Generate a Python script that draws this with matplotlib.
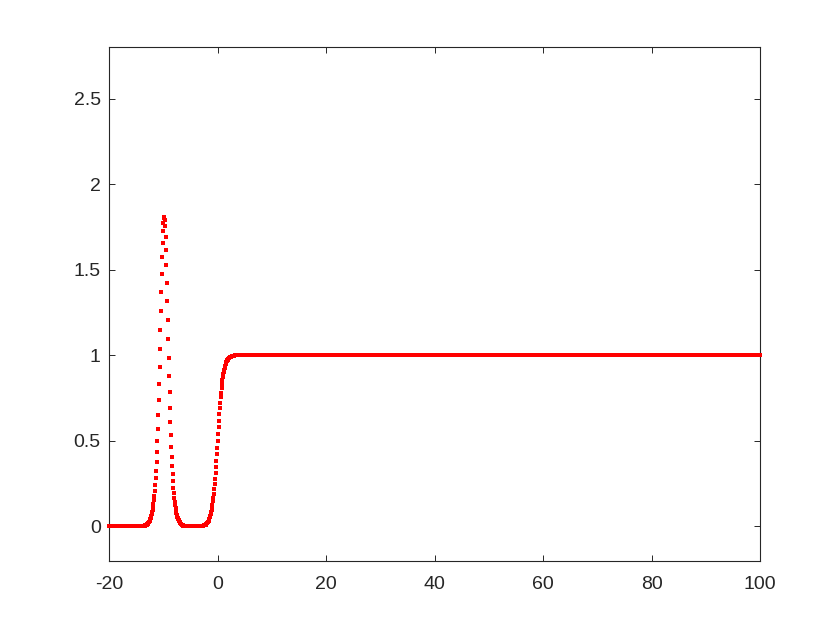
import numpy as np
import matplotlib
matplotlib.use("Agg")
import matplotlib.pyplot as plt

# ---- data -------------------------------------------------------------
# sampling grid of the curve
x_start = -20.0
x_step = 0.08
n_points = 1501

# levels on both sides of the features
base_level = 0.0
plateau_level = 1.0

# soliton-like peak near x = -9.9 (values on the sampling grid)
peak_start_x = -13.36
peak_y = [
    0.007, 0.008, 0.009, 0.011, 0.012, 0.015, 0.017, 0.020, 0.024, 0.028,
    0.032, 0.038, 0.044, 0.052, 0.061, 0.071, 0.083, 0.098, 0.114, 0.133,
    0.155, 0.180, 0.210, 0.244, 0.283, 0.327, 0.378, 0.435, 0.499, 0.571,
    0.650, 0.737, 0.832, 0.933, 1.039, 1.149, 1.260, 1.370, 1.475, 1.572,
    1.656, 1.725, 1.775, 1.804,
    1.809, 1.792, 1.753, 1.693, 1.616, 1.525, 1.424, 1.316, 1.205, 1.094,
    0.985, 0.881, 0.784, 0.693, 0.609, 0.534, 0.466, 0.405, 0.352, 0.304,
    0.263, 0.226, 0.195, 0.167, 0.144, 0.123, 0.105, 0.090, 0.077, 0.066,
    0.056, 0.048, 0.041, 0.035, 0.030, 0.026, 0.022, 0.019, 0.016, 0.014,
    0.011, 0.010, 0.008, 0.007,
]

# kink (step from 0 to 1) near x = 0
kink_start_x = -3.04
kink_y = [
    0.002, 0.003, 0.003, 0.004, 0.004, 0.005, 0.006, 0.007, 0.008, 0.010,
    0.011, 0.013, 0.015, 0.018, 0.021, 0.025, 0.029, 0.034, 0.039, 0.046,
    0.053, 0.062, 0.072, 0.083, 0.096, 0.111, 0.128, 0.147, 0.168, 0.192,
    0.218, 0.246, 0.277, 0.310, 0.345, 0.382, 0.421, 0.460,
    0.500,
    0.540, 0.579, 0.618, 0.655, 0.690, 0.723, 0.754, 0.782, 0.809, 0.832,
    0.853, 0.872, 0.889, 0.904, 0.917, 0.928, 0.938, 0.947, 0.954, 0.961,
    0.966, 0.971, 0.975, 0.979, 0.982, 0.985, 0.987, 0.989, 0.990, 0.992,
    0.993, 0.994, 0.995, 0.996, 0.996, 0.997, 0.997, 0.998,
]

xlim = (-20, 100)
ylim = (-0.2, 2.8)
xticks = [-20, 0, 20, 40, 60, 80, 100]
xtick_labels = ['-20', '0', '20', '40', '60', '80', '100']
yticks = [0, 0.5, 1, 1.5, 2, 2.5]
ytick_labels = ['0', '0.5', '1', '1.5', '2', '2.5']

# ---- assemble the series on the grid ----------------------------------
x = x_start + x_step * np.arange(n_points)
y = np.full(n_points, base_level)
i_peak = int(round((peak_start_x - x_start) / x_step))
y[i_peak:i_peak + len(peak_y)] = peak_y
i_kink = int(round((kink_start_x - x_start) / x_step))
y[i_kink:i_kink + len(kink_y)] = kink_y
y[i_kink + len(kink_y):] = plateau_level

# ---- figure ------------------------------------------------------------
plt.rcParams['font.family'] = ['Liberation Sans', 'DejaVu Sans']
fig = plt.figure(figsize=(8.4, 6.3), dpi=100)
ax = fig.add_axes([0.13, 0.11, 0.775, 0.815])

ax.plot(x, y, linestyle='none', marker='s', markersize=3.5,
        markeredgewidth=0, color='#ff0000', clip_on=False, zorder=3)

ax.set_xlim(*xlim)
ax.set_ylim(*ylim)
ax.set_xticks(xticks)
ax.set_xticklabels(xtick_labels)
ax.set_yticks(yticks)
ax.set_yticklabels(ytick_labels)

axcol = '#262626'
for s in ax.spines.values():
    s.set_color(axcol)
    s.set_linewidth(0.8)
ax.tick_params(axis='both', which='both', direction='in', length=4.5,
               width=0.7, color=axcol, labelcolor=axcol, labelsize=14,
               top=True, right=True)
ax.tick_params(axis='x', pad=11)
ax.tick_params(axis='y', pad=6)

fig.savefig('out.png', dpi=100, facecolor='white')
